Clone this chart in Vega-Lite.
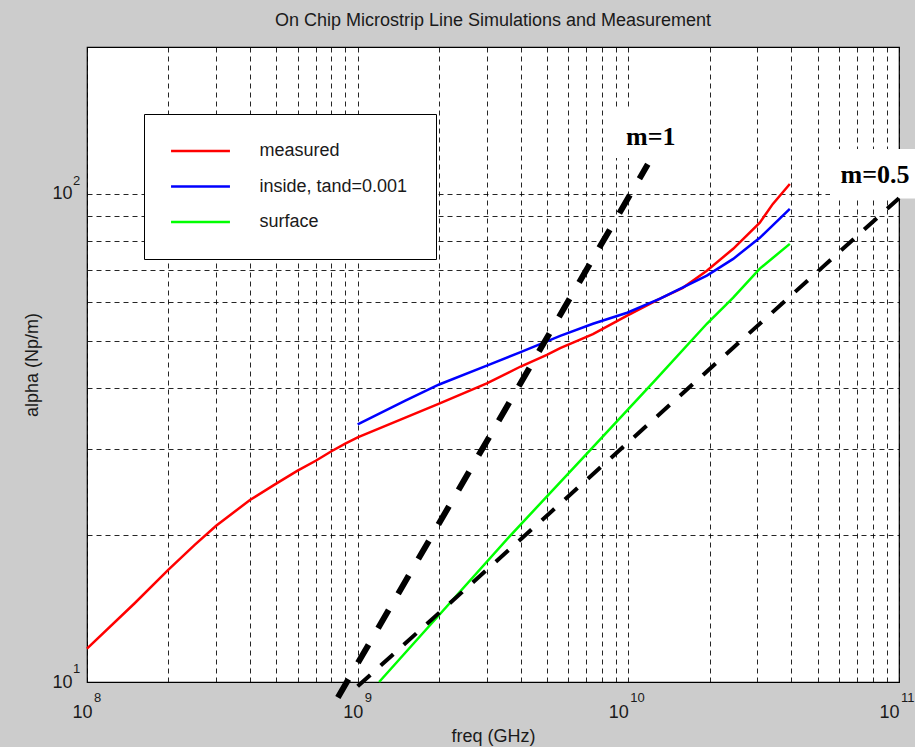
{
  "$schema": "https://vega.github.io/schema/vega-lite/v6.json",
  "width": 812,
  "height": 635,
  "autosize": {"type": "none"},
  "padding": {"left": 87, "top": 47, "right": 16, "bottom": 65},
  "background": "#cccccc",
  "title": {"text": "On Chip Microstrip Line Simulations and Measurement", "font": "Liberation Sans", "fontSize": 18, "fontWeight": "normal", "color": "#1a1a1a", "offset": 8, "anchor": "middle"},
  "config": {
    "view": {"fill": "white", "stroke": "#000", "strokeWidth": 1.2},
    "axis": {"gridColor": "#000", "gridDash": [5, 4], "gridOpacity": 0.85, "gridWidth": 1, "ticks": false, "domain": false, "labelFont": "Liberation Sans", "labelFontSize": 18, "labelColor": "#1a1a1a", "titleFont": "Liberation Sans", "titleFontSize": 18, "titleFontWeight": "normal", "titleColor": "#1a1a1a", "labelOverlap": false, "labelBound": false, "labelFlush": false}
  },
  "datasets": {
    "curves": [
      {"series": "measured", "f": 1e8, "alpha": 11.7},
      {"series": "measured", "f": 1.5e8, "alpha": 14.5},
      {"series": "measured", "f": 2e8, "alpha": 17.0},
      {"series": "measured", "f": 2.5e8, "alpha": 19.1},
      {"series": "measured", "f": 3e8, "alpha": 20.9},
      {"series": "measured", "f": 4e8, "alpha": 23.6},
      {"series": "measured", "f": 5e8, "alpha": 25.5},
      {"series": "measured", "f": 6e8, "alpha": 27.1},
      {"series": "measured", "f": 7e8, "alpha": 28.4},
      {"series": "measured", "f": 8e8, "alpha": 29.7},
      {"series": "measured", "f": 9e8, "alpha": 30.8},
      {"series": "measured", "f": 1e9, "alpha": 31.7},
      {"series": "measured", "f": 1.5e9, "alpha": 34.8},
      {"series": "measured", "f": 2e9, "alpha": 37.2},
      {"series": "measured", "f": 3e9, "alpha": 40.9},
      {"series": "measured", "f": 4e9, "alpha": 44.3},
      {"series": "measured", "f": 5e9, "alpha": 46.8},
      {"series": "measured", "f": 5.6e9, "alpha": 48.3},
      {"series": "measured", "f": 7.4e9, "alpha": 51.6},
      {"series": "measured", "f": 9.9e9, "alpha": 56.3},
      {"series": "measured", "f": 1.31e10, "alpha": 61.0},
      {"series": "measured", "f": 1.59e10, "alpha": 64.2},
      {"series": "measured", "f": 1.95e10, "alpha": 69.6},
      {"series": "measured", "f": 2.44e10, "alpha": 77.2},
      {"series": "measured", "f": 3.06e10, "alpha": 87.3},
      {"series": "measured", "f": 3.42e10, "alpha": 95.4},
      {"series": "measured", "f": 3.95e10, "alpha": 104.8},
      {"series": "inside, tand=0.001", "f": 1e9, "alpha": 33.7},
      {"series": "inside, tand=0.001", "f": 1.5e9, "alpha": 37.7},
      {"series": "inside, tand=0.001", "f": 2e9, "alpha": 40.7},
      {"series": "inside, tand=0.001", "f": 3e9, "alpha": 44.5},
      {"series": "inside, tand=0.001", "f": 4e9, "alpha": 47.4},
      {"series": "inside, tand=0.001", "f": 5.6e9, "alpha": 51.2},
      {"series": "inside, tand=0.001", "f": 7.4e9, "alpha": 54.2},
      {"series": "inside, tand=0.001", "f": 9.9e9, "alpha": 57.1},
      {"series": "inside, tand=0.001", "f": 1.31e10, "alpha": 61.0},
      {"series": "inside, tand=0.001", "f": 1.95e10, "alpha": 68.0},
      {"series": "inside, tand=0.001", "f": 2.44e10, "alpha": 73.6},
      {"series": "inside, tand=0.001", "f": 3.06e10, "alpha": 81.3},
      {"series": "inside, tand=0.001", "f": 3.95e10, "alpha": 93.2},
      {"series": "surface", "f": 1.2e9, "alpha": 10.0},
      {"series": "surface", "f": 3.65e9, "alpha": 19.9},
      {"series": "surface", "f": 7.2e9, "alpha": 29.8},
      {"series": "surface", "f": 1.255e10, "alpha": 41.5},
      {"series": "surface", "f": 1.95e10, "alpha": 54.2},
      {"series": "surface", "f": 2.44e10, "alpha": 61.3},
      {"series": "surface", "f": 3.06e10, "alpha": 70.3},
      {"series": "surface", "f": 3.95e10, "alpha": 79.0}
    ],
    "slopes": [
      {"line": "m=1", "f": 8.45e8, "alpha": 9.3},
      {"line": "m=1", "f": 1.18e10, "alpha": 115},
      {"line": "m=0.5", "f": 1e9, "alpha": 9.8},
      {"line": "m=0.5", "f": 1e11, "alpha": 98}
    ],
    "notes": [
      {"label": "m=1", "f": 1.21e10, "alpha": 130.8, "f1": 8.2e9, "f2": 1.69e10, "a1": 118.5, "a2": 150},
      {"label": "m=0.5", "f": 8.15e10, "alpha": 109.4, "f1": 5.56e10, "f2": 1.5e11, "a1": 97.9, "a2": 123.6}
    ],
    "exponents": [
      {"axis": "x", "f": 1e8, "alpha": 10, "exp": "8"},
      {"axis": "x", "f": 1e9, "alpha": 10, "exp": "9"},
      {"axis": "x", "f": 1e10, "alpha": 10, "exp": "10"},
      {"axis": "x", "f": 1e11, "alpha": 10, "exp": "11"},
      {"axis": "y", "f": 1e8, "alpha": 10, "exp": "1"},
      {"axis": "y", "f": 1e8, "alpha": 100, "exp": "2"}
    ]
  },
  "encoding": {
    "x": {"field": "f", "type": "quantitative",
      "scale": {"type": "log", "domain": [1e8, 1e11], "nice": false},
      "axis": {"values": [1e8, 2e8, 3e8, 4e8, 5e8, 6e8, 7e8, 8e8, 9e8, 1e9, 2e9, 3e9, 4e9, 5e9, 6e9, 7e9, 8e9, 9e9, 1e10, 2e10, 3e10, 4e10, 5e10, 6e10, 7e10, 8e10, 9e10, 1e11],
        "labelExpr": "datum.value == 1e8 || datum.value == 1e9 || datum.value == 1e10 || datum.value == 1e11 ? '10' : ''",
        "labelOffset": {"condition": {"test": "datum.value >= 1e10", "value": -10}, "value": -5},
        "labelPadding": 21, "title": "freq (GHz)", "titlePadding": 6}},
    "y": {"field": "alpha", "type": "quantitative",
      "scale": {"type": "log", "domain": [10, 200], "nice": false},
      "axis": {"values": [10, 20, 30, 40, 50, 60, 70, 80, 90, 100, 200],
        "labelExpr": "datum.value == 10 || datum.value == 100 ? '10' : ''",
        "labelPadding": 15, "title": "alpha (Np/m)", "titlePadding": 10}}
  },
  "layer": [
    {"data": {"name": "notes"}, "mark": {"type": "rect", "fill": "white", "clip": false},
      "encoding": {"x": {"field": "f1", "type": "quantitative"}, "x2": {"field": "f2"}, "y": {"field": "a1", "type": "quantitative"}, "y2": {"field": "a2"}}},
    {"data": {"name": "notes"}, "mark": {"type": "text", "font": "Liberation Serif", "fontWeight": "bold", "fontSize": 26, "color": "#000", "clip": false},
      "encoding": {"text": {"field": "label"}}},
    {"data": {"name": "exponents"}, "transform": [{"filter": "datum.axis == 'x' && length(datum.exp) == 1"}],
      "mark": {"type": "text", "font": "Liberation Sans", "fontSize": 13, "color": "#1a1a1a", "align": "left", "baseline": "alphabetic", "dx": 7, "dy": 20, "clip": false},
      "encoding": {"text": {"field": "exp"}}},
    {"data": {"name": "exponents"}, "transform": [{"filter": "datum.axis == 'x' && length(datum.exp) == 2"}],
      "mark": {"type": "text", "font": "Liberation Sans", "fontSize": 13, "color": "#1a1a1a", "align": "left", "baseline": "alphabetic", "dx": 2, "dy": 20, "clip": false},
      "encoding": {"text": {"field": "exp"}}},
    {"data": {"name": "exponents"}, "transform": [{"filter": "datum.axis == 'y'"}],
      "mark": {"type": "text", "font": "Liberation Sans", "fontSize": 13, "color": "#1a1a1a", "align": "left", "baseline": "alphabetic", "dx": -14, "dy": -9, "clip": false},
      "encoding": {"text": {"field": "exp"}}},
    {"data": {"name": "curves"}, "mark": {"type": "line", "strokeWidth": 2.5, "clip": false},
      "encoding": {"color": {"field": "series", "type": "nominal",
        "scale": {"domain": ["measured", "inside, tand=0.001", "surface"], "range": ["#ff0000", "#0000ff", "#00ff00"]},
        "legend": {"orient": "none", "legendX": 57, "legendY": 67, "title": null, "symbolType": "M-6.2,0H6.2", "symbolSize": 90.25, "symbolStrokeWidth": 2.5, "symbolOffset": 19.5, "labelFont": "Liberation Sans", "labelFontSize": 18, "labelColor": "#1a1a1a", "labelOffset": 50, "padding": 28, "rowPadding": 17.5, "strokeColor": "#000", "fillColor": "#fff", "labelLimit": 400}}}},
    {"data": {"name": "slopes"}, "transform": [{"filter": "datum.line == 'm=1'"}], "mark": {"type": "line", "color": "#000", "strokeWidth": 6, "strokeDash": [21, 19], "clip": false}, "encoding": {}},
    {"data": {"name": "slopes"}, "transform": [{"filter": "datum.line == 'm=0.5'"}], "mark": {"type": "line", "color": "#000", "strokeWidth": 4, "strokeDash": [17, 14], "clip": false}, "encoding": {}}
  ]
}
